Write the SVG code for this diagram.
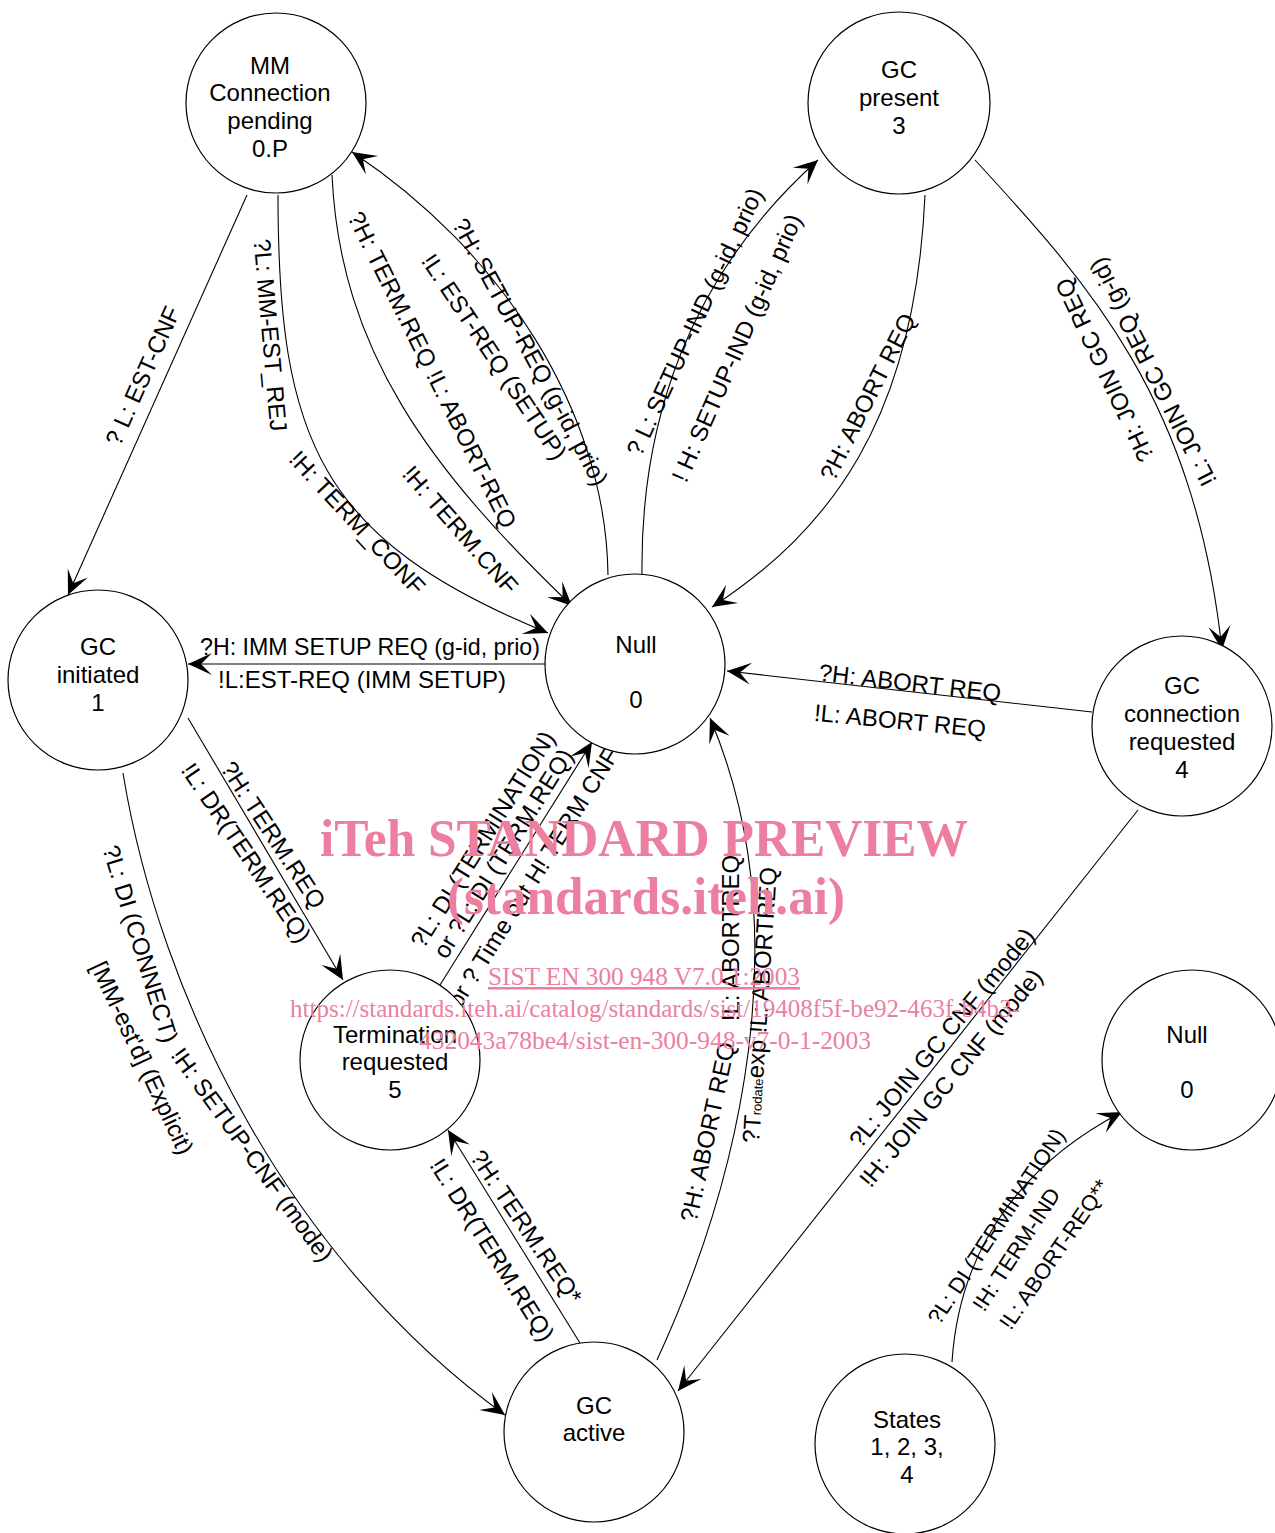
<svg xmlns="http://www.w3.org/2000/svg" width="1275" height="1533" viewBox="0 0 1275 1533">
<style>
.n{fill:#fff;stroke:#000;stroke-width:1.2}
.c{fill:none;stroke:#000;stroke-width:1.1}
.arr{marker-end:url(#ah)}
text{font-family:"Liberation Sans",Arial,sans-serif;font-size:24px;fill:#000}
.t{text-anchor:middle}
.l{text-anchor:middle}
.s22{font-size:22px}
.wm{font-family:"Liberation Serif","Times New Roman",serif;fill:#EC7FA0;text-anchor:middle}
.wm1{font-size:53px;font-weight:bold}
.wm2{font-size:25px}
</style>
<defs>
<marker id="ah" viewBox="-26 -13 28 26" markerWidth="28" markerHeight="26" refX="0" refY="0" orient="auto" markerUnits="userSpaceOnUse">
<path d="M0,0 L-24,-11 L-13,0 L-24,11 Z" fill="#000"/>
</marker>
</defs>
<rect width="1275" height="1533" fill="#fff"/>

<g id="connectors">
<path class="c arr" d="M247,195 L68,595"/>
<path class="c arr" d="M278,195 C278,440 320,540 548,633"/>
<path class="c arr" d="M608,575 C606,410 500,250 352,152"/>
<path class="c arr" d="M332,175 C340,350 430,470 572,606"/>
<path class="c arr" d="M642,575 C640,420 690,275 818,160"/>
<path class="c arr" d="M925,195 C915,420 830,530 712,607"/>
<path class="c arr" d="M975,160 C1090,285 1195,400 1222,650"/>
<path class="c arr" d="M545,664 L188,664"/>
<path class="c arr" d="M1092,712 L727,671"/>
<path class="c arr" d="M188,718 L343,980"/>
<path class="c arr" d="M123,773 C160,1000 290,1260 505,1415"/>
<path class="c arr" d="M440,985 L592,742"/>
<path class="c arr" d="M580,1343 L448,1130"/>
<path class="c arr" d="M657,1360 C740,1180 800,930 710,718"/>
<path class="c arr" d="M1138,810 L678,1391"/>
<path class="c arr" d="M952,1362 C960,1240 1030,1160 1122,1112"/>
</g>

<g id="labels">
<text class="l" transform="translate(143 376) rotate(-65.9)" y="8">? L: EST-CNF</text>
<text class="l" transform="translate(270 335) rotate(85)" y="8">?L: MM-EST_REJ</text>
<text class="l" transform="translate(357 523) rotate(47)" y="8">!H: TERM_CONF</text>
<text class="l" transform="translate(530 352) rotate(61.5)" y="8">?H: SETUP-REQ (g-id, prio)</text>
<text class="l" transform="translate(494 357) rotate(56.4)" y="8">!L: EST-REQ (SETUP)</text>
<text class="l" transform="translate(432 370) rotate(63.6)" y="8">?H: TERM.REQ !L: ABORT-REQ</text>
<text class="l" transform="translate(460 530) rotate(48.7)" y="8">!H: TERM.CNF</text>
<text class="l" transform="translate(695 322) rotate(-65.1)" y="8">? L: SETUP-IND (g-id, prio)</text>
<text class="l" transform="translate(737 348) rotate(-66.3)" y="8">! H: SETUP-IND (g-id, prio)</text>
<text class="l" transform="translate(868 397) rotate(-63.3)" y="8">?H: ABORT REQ</text>
<text class="l" transform="translate(1105 370) rotate(-115.2)" y="8">?H: JOIN GC REQ</text>
<text class="l" transform="translate(1153 372) rotate(-116.9)" y="8">!L: JOIN GC REQ (g-id)</text>
<text class="l" x="370" y="655" textLength="340" lengthAdjust="spacingAndGlyphs">?H: IMM SETUP REQ (g-id, prio)</text>
<text class="l" x="362" y="688">!L:EST-REQ (IMM SETUP)</text>
<text class="l" transform="translate(910 683) rotate(6.5)" y="8">?H: ABORT REQ</text>
<text class="l" transform="translate(900 721) rotate(5.5)" y="8">!L: ABORT REQ</text>
<text class="l" transform="translate(273 835) rotate(56.8)" y="8">?H: TERM.REQ</text>
<text class="l" transform="translate(246 853) rotate(55.9)" y="8">!L: DR(TERM.REQ)</text>
<text class="l" transform="translate(140 944) rotate(72.9)" y="8">?L: DI (CONNECT)</text>
<text class="l" transform="translate(252 1155) rotate(54)" y="8">!H: SETUP-CNF (mode)</text>
<text class="l" transform="translate(142 1058) rotate(64.9)" y="8">[MM-est'd] (Explicit)</text>
<text class="l" transform="translate(483 839.5) rotate(-58)" y="8">?L: DI (TERMINATION)</text>
<text class="l" transform="translate(503.4 853.6) rotate(-58)" y="8">or ?L: DI (TERM.REQ)</text>
<text class="l" transform="translate(533 878) rotate(-58)" y="8">or ? Time out H! TERM CNF</text>
<text class="l" transform="translate(526 1227) rotate(56)" y="8">?H: TERM.REQ*</text>
<text class="l" transform="translate(492 1250) rotate(57.7)" y="8">!L: DR(TERM.REQ)</text>
<text class="l" transform="translate(708 1132) rotate(-77.7)" y="8">?H: ABORT REQ</text>
<text class="l" transform="translate(731 938) rotate(-90)" y="8">!L: ABORTREQ</text>
<text class="l" transform="translate(760 1005) rotate(-86.3)" y="8">?T<tspan font-size="13">rodate</tspan>exp !L: ABORTREQ</text>
<text class="l" transform="translate(942 1038) rotate(-50.5)" y="8">?L: JOIN GC CNF (mode)</text>
<text class="l" transform="translate(951 1078) rotate(-50.7)" y="8">!H: JOIN GC CNF (mode)</text>
<text class="l s22" transform="translate(996 1226) rotate(-56.5)" y="8">?L: DI (TERMINATION)</text>
<text class="l s22" transform="translate(1016 1249) rotate(-57)" y="8">!H: TERM-IND</text>
<text class="l s22" transform="translate(1054 1254) rotate(-55.5)" y="8">!L: ABORT-REQ**</text>
</g>

<g id="node-mm">
<circle class="n" cx="276" cy="103" r="90"/>
<text class="t" x="270" y="74">MM</text>
<text class="t" x="270" y="101">Connection</text>
<text class="t" x="270" y="129">pending</text>
<text class="t" x="270" y="157">0.P</text>
</g>
<g id="node-gc-present">
<circle class="n" cx="899" cy="103" r="91"/>
<text class="t" x="899" y="78">GC</text>
<text class="t" x="899" y="106">present</text>
<text class="t" x="899" y="134">3</text>
</g>
<g id="node-gc-initiated">
<circle class="n" cx="98" cy="680" r="90"/>
<text class="t" x="98" y="655">GC</text>
<text class="t" x="98" y="683">initiated</text>
<text class="t" x="98" y="711">1</text>
</g>
<g id="node-null">
<circle class="n" cx="635" cy="664" r="90"/>
<text class="t" x="636" y="653">Null</text>
<text class="t" x="636" y="708">0</text>
</g>
<g id="node-gc-conn-req">
<circle class="n" cx="1182" cy="726" r="90"/>
<text class="t" x="1182" y="694">GC</text>
<text class="t" x="1182" y="722">connection</text>
<text class="t" x="1182" y="750">requested</text>
<text class="t" x="1182" y="778">4</text>
</g>
<g id="node-term-req">
<circle class="n" cx="390" cy="1060" r="90"/>
<text class="t" x="395" y="1043">Termination</text>
<text class="t" x="395" y="1070">requested</text>
<text class="t" x="395" y="1098">5</text>
</g>
<g id="node-null-2">
<circle class="n" cx="1192" cy="1060" r="90"/>
<text class="t" x="1187" y="1043">Null</text>
<text class="t" x="1187" y="1098">0</text>
</g>
<g id="node-gc-active">
<circle class="n" cx="594" cy="1432" r="90"/>
<text class="t" x="594" y="1414">GC</text>
<text class="t" x="594" y="1441">active</text>
</g>
<g id="node-states">
<circle class="n" cx="905" cy="1444" r="90"/>
<text class="t" x="907" y="1428">States</text>
<text class="t" x="907" y="1455">1, 2, 3,</text>
<text class="t" x="907" y="1483">4</text>
</g>

<g id="watermark">
<text class="wm wm1" x="644" y="856" textLength="648" lengthAdjust="spacingAndGlyphs">iTeh STANDARD PREVIEW</text>
<text class="wm wm1" x="646" y="914" textLength="398" lengthAdjust="spacingAndGlyphs">(standards.iteh.ai)</text>
<text class="wm wm2" x="644" y="985" text-decoration="underline" textLength="312" lengthAdjust="spacingAndGlyphs">SIST EN 300 948 V7.0.1:2003</text>
<text class="wm wm2" x="655" y="1017" textLength="730" lengthAdjust="spacingAndGlyphs">https://standards.iteh.ai/catalog/standards/sist/19408f5f-be92-463f-b4b3-</text>
<text class="wm wm2" x="645" y="1049" textLength="452" lengthAdjust="spacingAndGlyphs">432043a78be4/sist-en-300-948-v7-0-1-2003</text>
</g>
</svg>
